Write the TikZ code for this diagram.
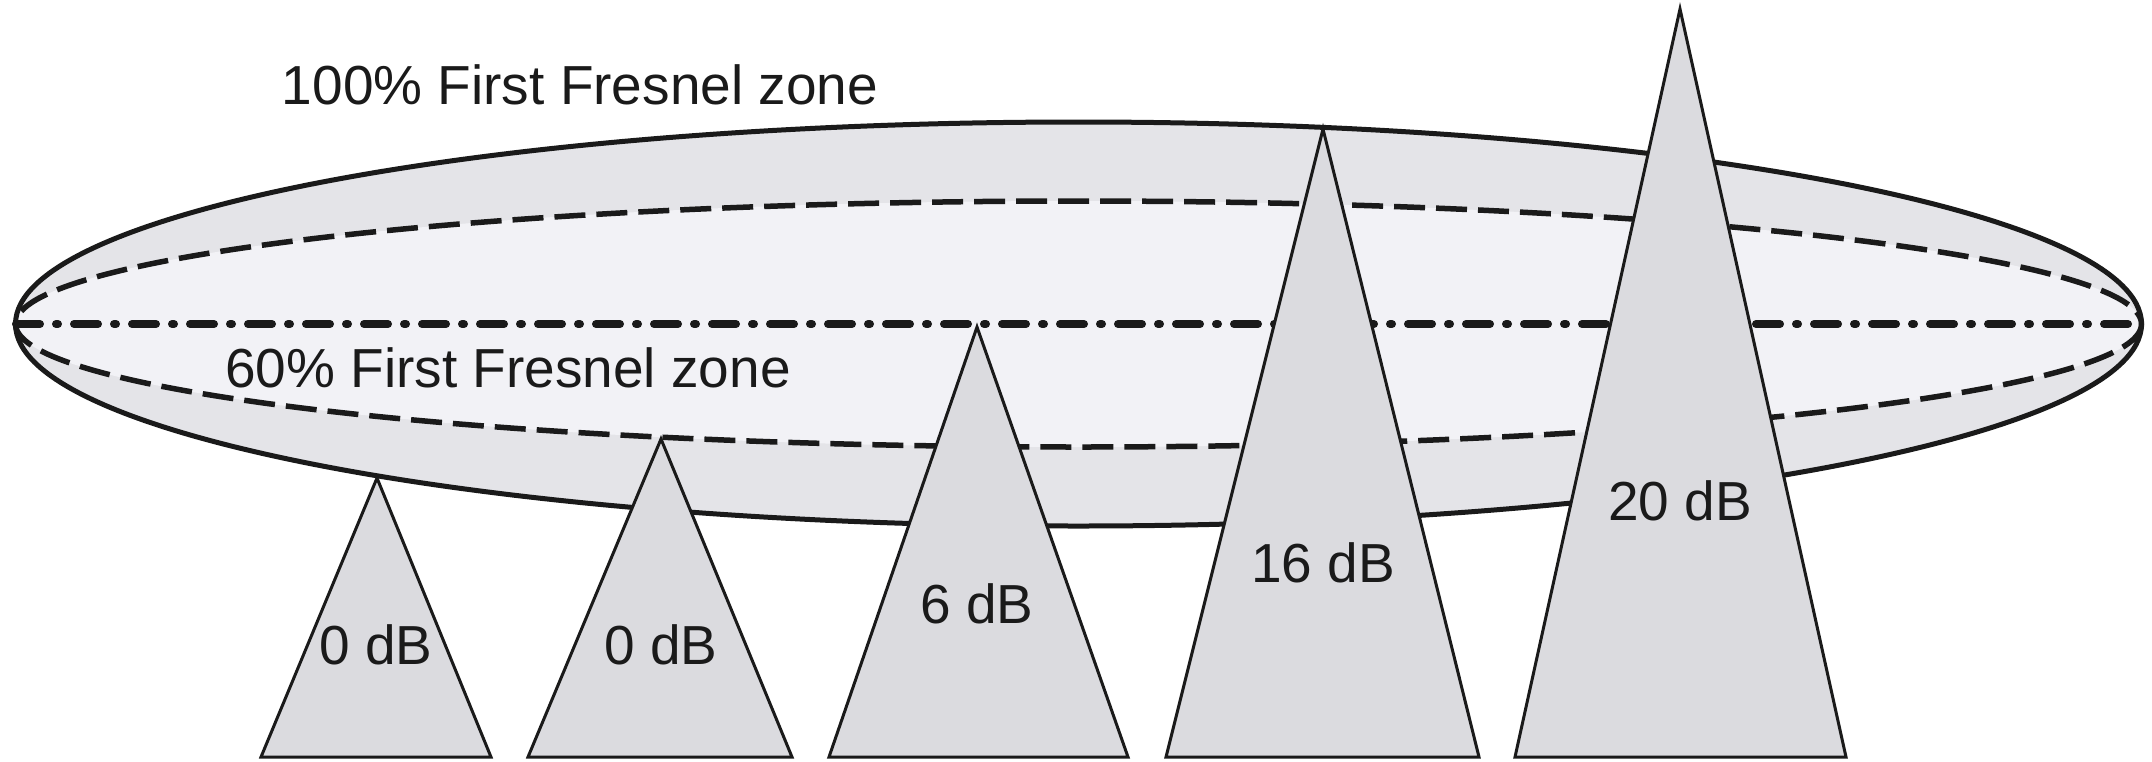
\documentclass[tikz,border=0pt]{standalone}
\usepackage{fontspec}
\setmainfont{Liberation Sans}
\begin{document}
\begin{tikzpicture}[x=1pt,y=-1pt,
  band/.style={fill=bandgray},
  core/.style={fill=coregray},
  zone/.style={draw=inkc,line width=5pt},
  zone60/.style={draw=inkc,line width=5.5pt,dash pattern=on 31pt off 11pt},
  axisline/.style={draw=inkc,line width=8pt,line cap=round,
    dash pattern=on 24pt off 16pt on 2pt off 16pt},
  obstacle/.style={fill=obsgray,draw=inkc,line width=3pt,line join=miter},
  lbl/.style={text=inkc,inner sep=0pt,font=\fontsize{55}{60}\selectfont}]
\definecolor{bandgray}{HTML}{E4E4E8}
\definecolor{coregray}{HTML}{F2F2F6}
\definecolor{obsgray}{HTML}{DBDBDF}
\definecolor{inkc}{HTML}{1A1A1A}
\useasboundingbox (0,0) rectangle (2152,761);
% Fresnel zones
\path[band] (1078.5,324) ellipse [x radius=1063, y radius=202];
\path[core] (1078.5,324) ellipse [x radius=1063, y radius=123];
\path[zone60] (1078.5,324) ellipse [x radius=1063, y radius=123];
\coordinate (txL) at (16,324);
\coordinate (rxR) at (2141,324);
\path[axisline] (txL) -- (rxR);
\path[zone] (1078.5,324) ellipse [x radius=1063, y radius=202];
% obstacles
\draw[obstacle] (261,757) -- (377,478) -- (491,757) -- cycle;
\draw[obstacle] (528,757) -- (661,439) -- (792,757) -- cycle;
\draw[obstacle] (829,757) -- (977,327) -- (1128,757) -- cycle;
\draw[obstacle] (1166,757) -- (1323,129) -- (1479,757) -- cycle;
\draw[obstacle] (1515,757) -- (1680,9) -- (1846,757) -- cycle;
% labels
\node[lbl] (l100) at (580,85) {100\% First Fresnel zone};
\node[lbl] (l60) at (508,368) {60\% First Fresnel zone};
\node[lbl] (o1) at (376,645) {0 dB};
\node[lbl] (o2) at (661,645) {0 dB};
\node[lbl] (o3) at (977,604) {6 dB};
\node[lbl] (o4) at (1323,563) {16 dB};
\node[lbl] (o5) at (1680,501) {20 dB};
\end{tikzpicture}
\end{document}
